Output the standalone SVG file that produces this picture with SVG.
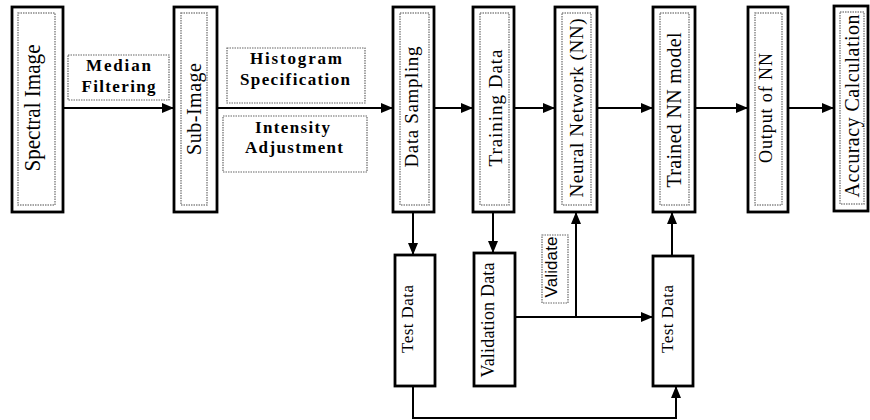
<svg xmlns="http://www.w3.org/2000/svg" width="870" height="420" viewBox="0 0 870 420">
<defs>
<marker id="ah" markerWidth="12" markerHeight="10" refX="11" refY="5" orient="auto" markerUnits="userSpaceOnUse">
<path d="M0,0 L12,5 L0,10 Z" fill="#000"/>
</marker>
<style>
.box{fill:#fff;stroke:#000;stroke-width:2.8}
.inner{fill:none;stroke:#888;stroke-width:1.5;stroke-dasharray:1.5 1}
.lbl{fill:none;stroke:#666;stroke-width:1.2;stroke-dasharray:1.5 1}
.t{font-family:"Liberation Serif","Times New Roman",serif;font-size:19px;fill:#000;text-anchor:middle}
.ts{font-family:"Liberation Serif","Times New Roman",serif;font-size:18px;fill:#000;text-anchor:middle}
.b{font-family:"Liberation Serif","Times New Roman",serif;font-size:17px;font-weight:bold;fill:#000;text-anchor:middle}
.v{font-family:"Liberation Sans",Arial,sans-serif;font-size:17px;fill:#000;text-anchor:middle}
.c{fill:none;stroke:#000;stroke-width:2}
</style>
</defs>
<rect width="870" height="420" fill="#fff"/>

<g id="connectors">
<line class="c" x1="63" y1="108" x2="173" y2="108" marker-end="url(#ah)"/>
<line class="c" x1="217" y1="108" x2="392" y2="108" marker-end="url(#ah)"/>
<line class="c" x1="434" y1="108" x2="472" y2="108" marker-end="url(#ah)"/>
<line class="c" x1="514" y1="108" x2="554" y2="108" marker-end="url(#ah)"/>
<line class="c" x1="597" y1="108" x2="652" y2="108" marker-end="url(#ah)"/>
<line class="c" x1="695" y1="108" x2="747" y2="108" marker-end="url(#ah)"/>
<line class="c" x1="788" y1="108" x2="833" y2="108" marker-end="url(#ah)"/>
<line class="c" x1="413" y1="212" x2="413" y2="254" marker-end="url(#ah)"/>
<line class="c" x1="493" y1="212" x2="493" y2="252" marker-end="url(#ah)"/>
<line class="c" x1="515" y1="317" x2="652" y2="317" marker-end="url(#ah)"/>
<line class="c" x1="576" y1="317" x2="576" y2="213" marker-end="url(#ah)"/>
<line class="c" x1="672" y1="256" x2="672" y2="213" marker-end="url(#ah)"/>
<polyline class="c" points="413,386 413,418 676,418 676,387" marker-end="url(#ah)"/>
</g>

<g id="median-filtering">
<rect class="lbl" x="68" y="55" width="101" height="45"/>
<text class="b" x="118.5" y="71" textLength="65" lengthAdjust="spacing">Median</text>
<text class="b" x="118.5" y="92" textLength="74" lengthAdjust="spacing">Filtering</text>
</g>
<g id="histogram-specification">
<rect class="lbl" x="227" y="48" width="138" height="55"/>
<text class="b" x="296" y="64" textLength="92" lengthAdjust="spacing">Histogram</text>
<text class="b" x="295" y="85" textLength="110" lengthAdjust="spacing">Specification</text>
</g>
<g id="intensity-adjustment">
<rect class="lbl" x="223" y="116" width="144" height="56"/>
<text class="b" x="292.5" y="133" textLength="75" lengthAdjust="spacing">Intensity</text>
<text class="b" x="294" y="153" textLength="98" lengthAdjust="spacing">Adjustment</text>
</g>

<g id="spectral-image">
<rect class="box" x="12" y="7" width="51" height="205"/>
<rect class="inner" x="18" y="13" width="37" height="192"/>
<text class="t" style="font-size:24px" transform="translate(40,108) rotate(-90)" textLength="127" lengthAdjust="spacingAndGlyphs">Spectral Image</text>
</g>
<g id="sub-image">
<rect class="box" x="174" y="7" width="43" height="205"/>
<rect class="inner" x="181" y="13" width="26" height="192"/>
<text class="t" style="font-size:20px" transform="translate(201,109) rotate(-90)" textLength="92" lengthAdjust="spacing">Sub-Image</text>
</g>
<g id="data-sampling">
<rect class="box" x="393" y="7" width="41" height="205"/>
<rect class="inner" x="400" y="13" width="29" height="192"/>
<text class="t" transform="translate(418,107) rotate(-90)" textLength="121" lengthAdjust="spacing">Data Sampling</text>
</g>
<g id="training-data">
<rect class="box" x="473" y="7" width="41" height="205"/>
<rect class="inner" x="480" y="13" width="29" height="192"/>
<text class="t" transform="translate(502,108) rotate(-90)" textLength="117" lengthAdjust="spacing">Training Data</text>
</g>
<g id="neural-network">
<rect class="box" x="555" y="7" width="42" height="205"/>
<rect class="inner" x="562" y="13" width="29" height="192"/>
<text class="t" transform="translate(583,108) rotate(-90)" textLength="179" lengthAdjust="spacing">Neural Network (NN)</text>
</g>
<g id="trained-nn-model">
<rect class="box" x="653" y="7" width="42" height="205"/>
<rect class="inner" x="660" y="13" width="29" height="192"/>
<text class="t" style="font-size:20px" transform="translate(681,110) rotate(-90)" textLength="155" lengthAdjust="spacing">Trained NN model</text>
</g>
<g id="output-of-nn">
<rect class="box" x="748" y="7" width="40" height="205"/>
<rect class="inner" x="755" y="13" width="27" height="192"/>
<text class="t" style="font-size:18px" transform="translate(772,108) rotate(-90)" textLength="110" lengthAdjust="spacing">Output of NN</text>
</g>
<g id="accuracy-calculation">
<rect class="box" x="834" y="6" width="34" height="205"/>
<rect class="inner" x="840" y="12" width="24" height="192"/>
<text class="t" style="font-size:20px" transform="translate(859,106) rotate(-90)" textLength="183" lengthAdjust="spacing">Accuracy Calculation</text>
</g>

<g id="test-data-1">
<rect class="box" x="395" y="255" width="40" height="131"/>
<text class="ts" style="font-size:17px" transform="translate(413,319) rotate(-90)" textLength="68" lengthAdjust="spacing">Test Data</text>
</g>
<g id="validation-data">
<rect class="box" x="474" y="253" width="41" height="133"/>
<text class="ts" transform="translate(494,320) rotate(-90)" textLength="115" lengthAdjust="spacing">Validation Data</text>
</g>
<g id="test-data-2">
<rect class="box" x="653" y="256" width="40" height="130"/>
<text class="ts" style="font-size:17px" transform="translate(673,319) rotate(-90)" textLength="68" lengthAdjust="spacing">Test Data</text>
</g>
<g id="validate">
<rect class="lbl" x="542" y="235" width="26" height="68"/>
<text class="v" transform="translate(557,267) rotate(-90)" textLength="61" lengthAdjust="spacing">Validate</text>
</g>
</svg>
